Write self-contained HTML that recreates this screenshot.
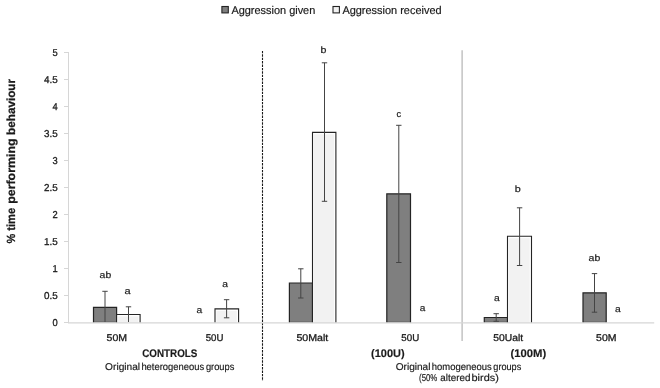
<!DOCTYPE html>
<html lang="en">
<head>
<meta charset="utf-8">
<title>Aggression given and received</title>
<style>
html,body{margin:0;padding:0;background:#ffffff;}
body{width:660px;height:388px;overflow:hidden;}
svg{display:block;}
.t{font-family:"Liberation Sans",sans-serif;fill:#1a1a1a;stroke:#1a1a1a;stroke-width:0.18px;text-rendering:geometricPrecision;}
.tick{font-size:10px;stroke-width:0.3px;}
.sig{font-size:9.3px;stroke-width:0.2px;}
.cat{font-size:9.8px;stroke-width:0.3px;}
.grp{font-size:11.1px;font-weight:bold;stroke-width:0.15px;}
.sub{font-size:9.9px;}
.leg{font-size:11.2px;}
.ytitle{font-size:11.8px;font-weight:bold;stroke-width:0.25px;}
</style>
</head>
<body>
<svg width="660" height="388" viewBox="0 0 660 388">
<rect x="0" y="0" width="660" height="388" fill="#ffffff"/>
<line x1="68.5" y1="52" x2="68.5" y2="323.0" stroke="#d6d6d6" stroke-width="1"/>
<line x1="64" y1="322.5" x2="68.5" y2="322.5" stroke="#d6d6d6" stroke-width="1"/>
<text x="52.6" y="326.0" class="t tick" textLength="5.2" lengthAdjust="spacingAndGlyphs">0</text>
<line x1="64" y1="295.5" x2="68.5" y2="295.5" stroke="#d6d6d6" stroke-width="1"/>
<text x="44.1" y="299.0" class="t tick" textLength="13.7" lengthAdjust="spacingAndGlyphs">0.5</text>
<line x1="64" y1="268.5" x2="68.5" y2="268.5" stroke="#d6d6d6" stroke-width="1"/>
<text x="52.6" y="272.0" class="t tick" textLength="5.2" lengthAdjust="spacingAndGlyphs">1</text>
<line x1="64" y1="241.5" x2="68.5" y2="241.5" stroke="#d6d6d6" stroke-width="1"/>
<text x="44.1" y="245.0" class="t tick" textLength="13.7" lengthAdjust="spacingAndGlyphs">1.5</text>
<line x1="64" y1="214.5" x2="68.5" y2="214.5" stroke="#d6d6d6" stroke-width="1"/>
<text x="52.6" y="218.0" class="t tick" textLength="5.2" lengthAdjust="spacingAndGlyphs">2</text>
<line x1="64" y1="187.5" x2="68.5" y2="187.5" stroke="#d6d6d6" stroke-width="1"/>
<text x="44.1" y="191.0" class="t tick" textLength="13.7" lengthAdjust="spacingAndGlyphs">2.5</text>
<line x1="64" y1="160.5" x2="68.5" y2="160.5" stroke="#d6d6d6" stroke-width="1"/>
<text x="52.6" y="164.0" class="t tick" textLength="5.2" lengthAdjust="spacingAndGlyphs">3</text>
<line x1="64" y1="133.5" x2="68.5" y2="133.5" stroke="#d6d6d6" stroke-width="1"/>
<text x="44.1" y="137.0" class="t tick" textLength="13.7" lengthAdjust="spacingAndGlyphs">3.5</text>
<line x1="64" y1="106.5" x2="68.5" y2="106.5" stroke="#d6d6d6" stroke-width="1"/>
<text x="52.6" y="110.0" class="t tick" textLength="5.2" lengthAdjust="spacingAndGlyphs">4</text>
<line x1="64" y1="79.5" x2="68.5" y2="79.5" stroke="#d6d6d6" stroke-width="1"/>
<text x="44.1" y="83.0" class="t tick" textLength="13.7" lengthAdjust="spacingAndGlyphs">4.5</text>
<line x1="64" y1="52.5" x2="68.5" y2="52.5" stroke="#d6d6d6" stroke-width="1"/>
<text x="52.6" y="56.0" class="t tick" textLength="5.2" lengthAdjust="spacingAndGlyphs">5</text>
<line x1="262.5" y1="50.9" x2="262.5" y2="381" stroke="#1a1a1a" stroke-width="1.1" stroke-dasharray="2.4 1"/>
<line x1="462.1" y1="50.3" x2="462.1" y2="341" stroke="#b4b4b4" stroke-width="1.2"/>
<rect x="93.5" y="307.4" width="23.1" height="15.1" fill="#7f7f7f"/>
<path d="M93.5 322.8V307.4H116.6V322.8" fill="none" stroke="#242424" stroke-width="1.2"/>
<line x1="93.5" y1="322.2" x2="116.6" y2="322.2" stroke="#242424" stroke-width="1" stroke-opacity="0.45"/>
<rect x="116.6" y="314.5" width="23.5" height="8.0" fill="#ffffff"/>
<rect x="118.1" y="316.4" width="20.2" height="6.1" fill="#f2f2f2"/>
<path d="M116.6 322.8V314.5H140.1V322.8" fill="none" stroke="#242424" stroke-width="1.1"/>
<rect x="215.0" y="308.9" width="23.6" height="13.6" fill="#ffffff"/>
<rect x="216.5" y="310.8" width="20.3" height="11.7" fill="#f2f2f2"/>
<path d="M215.0 322.8V308.9H238.6V322.8" fill="none" stroke="#242424" stroke-width="1.1"/>
<rect x="289.4" y="283.0" width="23.1" height="39.5" fill="#7f7f7f"/>
<path d="M289.4 322.8V283.0H312.5V322.8" fill="none" stroke="#242424" stroke-width="1.2"/>
<line x1="289.4" y1="322.2" x2="312.5" y2="322.2" stroke="#242424" stroke-width="1" stroke-opacity="0.45"/>
<rect x="312.5" y="132.4" width="23.4" height="190.1" fill="#ffffff"/>
<rect x="314.0" y="134.3" width="20.1" height="188.2" fill="#f2f2f2"/>
<path d="M312.5 322.8V132.4H335.9V322.8" fill="none" stroke="#242424" stroke-width="1.1"/>
<rect x="386.8" y="193.8" width="23.7" height="128.7" fill="#7f7f7f"/>
<path d="M386.8 322.8V193.8H410.5V322.8" fill="none" stroke="#242424" stroke-width="1.2"/>
<line x1="386.8" y1="322.2" x2="410.5" y2="322.2" stroke="#242424" stroke-width="1" stroke-opacity="0.45"/>
<rect x="484.3" y="317.5" width="23.2" height="5.0" fill="#7f7f7f"/>
<path d="M484.3 322.8V317.5H507.5V322.8" fill="none" stroke="#242424" stroke-width="1.2"/>
<line x1="484.3" y1="322.2" x2="507.5" y2="322.2" stroke="#242424" stroke-width="1" stroke-opacity="0.45"/>
<rect x="507.5" y="236.3" width="24.0" height="86.2" fill="#ffffff"/>
<rect x="509.0" y="238.2" width="20.7" height="84.3" fill="#f2f2f2"/>
<path d="M507.5 322.8V236.3H531.5V322.8" fill="none" stroke="#242424" stroke-width="1.1"/>
<rect x="583.0" y="292.8" width="23.2" height="29.7" fill="#7f7f7f"/>
<path d="M583.0 322.8V292.8H606.2V322.8" fill="none" stroke="#242424" stroke-width="1.2"/>
<line x1="583.0" y1="322.2" x2="606.2" y2="322.2" stroke="#242424" stroke-width="1" stroke-opacity="0.45"/>
<line x1="68.0" y1="322.9" x2="654.2" y2="322.9" stroke="#d6d6d6" stroke-width="1.2"/>
<path d="M102.3 291.3H107.7M105.0 291.3V322.0" stroke="#444444" stroke-width="1" fill="none"/>
<path d="M125.8 306.8H131.2M128.5 306.8V322.0" stroke="#444444" stroke-width="1" fill="none"/>
<path d="M223.9 299.7H229.3M226.6 299.7V317.8M223.9 317.8H229.3" stroke="#444444" stroke-width="1" fill="none"/>
<path d="M298.1 268.8H303.5M300.8 268.8V298.0M298.1 298.0H303.5" stroke="#444444" stroke-width="1" fill="none"/>
<path d="M321.8 62.8H327.2M324.5 62.8V201.3M321.8 201.3H327.2" stroke="#444444" stroke-width="1" fill="none"/>
<path d="M396.1 125.3H401.5M398.8 125.3V262.5M396.1 262.5H401.5" stroke="#444444" stroke-width="1" fill="none"/>
<path d="M493.5 313.7H498.9M496.2 313.7V321.3M493.5 321.3H498.9" stroke="#444444" stroke-width="1" fill="none"/>
<path d="M516.9 207.8H522.3M519.6 207.8V265.5M516.9 265.5H522.3" stroke="#444444" stroke-width="1" fill="none"/>
<path d="M591.8 273.6H597.2M594.5 273.6V312.2M591.8 312.2H597.2" stroke="#444444" stroke-width="1" fill="none"/>
<text x="99.6" y="278.1" class="t sig" textLength="11.6" lengthAdjust="spacingAndGlyphs">ab</text>
<text x="124.4" y="293.9" class="t sig" textLength="6.1" lengthAdjust="spacingAndGlyphs">a</text>
<text x="196.4" y="313.2" class="t sig" textLength="5.7" lengthAdjust="spacingAndGlyphs">a</text>
<text x="222.2" y="287.3" class="t sig" textLength="5.7" lengthAdjust="spacingAndGlyphs">a</text>
<text x="320.6" y="52.9" class="t sig" textLength="5.9" lengthAdjust="spacingAndGlyphs">b</text>
<text x="396.6" y="117.3" class="t sig" textLength="4.6" lengthAdjust="spacingAndGlyphs">c</text>
<text x="419.8" y="310.8" class="t sig" textLength="5.6" lengthAdjust="spacingAndGlyphs">a</text>
<text x="493.9" y="301.4" class="t sig" textLength="5.7" lengthAdjust="spacingAndGlyphs">a</text>
<text x="514.8" y="192.4" class="t sig" textLength="6.0" lengthAdjust="spacingAndGlyphs">b</text>
<text x="588.6" y="260.7" class="t sig" textLength="11.7" lengthAdjust="spacingAndGlyphs">ab</text>
<text x="615.0" y="311.5" class="t sig" textLength="5.7" lengthAdjust="spacingAndGlyphs">a</text>
<text x="106.6" y="340.8" class="t cat" textLength="20.5" lengthAdjust="spacingAndGlyphs">50M</text>
<text x="205.7" y="340.8" class="t cat" textLength="17.7" lengthAdjust="spacingAndGlyphs">50U</text>
<text x="296.4" y="340.8" class="t cat" textLength="31.9" lengthAdjust="spacingAndGlyphs">50Malt</text>
<text x="401.3" y="340.8" class="t cat" textLength="17.9" lengthAdjust="spacingAndGlyphs">50U</text>
<text x="493.3" y="340.8" class="t cat" textLength="29.8" lengthAdjust="spacingAndGlyphs">50Ualt</text>
<text x="596.1" y="340.8" class="t cat" textLength="20.4" lengthAdjust="spacingAndGlyphs">50M</text>
<text x="142.2" y="357.2" class="t grp" textLength="55.2" lengthAdjust="spacingAndGlyphs">CONTROLS</text>
<text x="371.0" y="357.0" class="t grp" textLength="33.6" lengthAdjust="spacingAndGlyphs">(100U)</text>
<text x="510.5" y="357.0" class="t grp" textLength="35.7" lengthAdjust="spacingAndGlyphs">(100M)</text>
<text x="105.1" y="369.5" class="t sub" textLength="35.0" lengthAdjust="spacingAndGlyphs">Original</text>
<text x="141.4" y="369.5" class="t sub" textLength="62.7" lengthAdjust="spacingAndGlyphs">heterogeneous</text>
<text x="205.9" y="369.5" class="t sub" textLength="28.4" lengthAdjust="spacingAndGlyphs">groups</text>
<text x="395.7" y="369.5" class="t sub" textLength="34.8" lengthAdjust="spacingAndGlyphs">Original</text>
<text x="431.8" y="369.5" class="t sub" textLength="59.8" lengthAdjust="spacingAndGlyphs">homogeneous</text>
<text x="493.3" y="369.5" class="t sub" textLength="28.0" lengthAdjust="spacingAndGlyphs">groups</text>
<text x="419.1" y="380.6" class="t sub" textLength="18.2" lengthAdjust="spacingAndGlyphs">(50%</text>
<text x="440.3" y="380.6" class="t sub" textLength="30.1" lengthAdjust="spacingAndGlyphs">altered</text>
<text x="471.5" y="380.6" class="t sub" textLength="27.3" lengthAdjust="spacingAndGlyphs">birds)</text>
<rect x="221.9" y="6.5" width="6.4" height="6.4" fill="#7f7f7f" stroke="#242424" stroke-width="1.1"/>
<text x="231.4" y="13.6" class="t leg" textLength="83.9" lengthAdjust="spacingAndGlyphs">Aggression given</text>
<rect x="333.0" y="6.5" width="6.4" height="6.4" fill="#f2f2f2" stroke="#242424" stroke-width="1.1"/>
<text x="342.4" y="13.6" class="t leg" textLength="99.2" lengthAdjust="spacingAndGlyphs">Aggression received</text>
<text transform="translate(15.2,243.6) rotate(-90)" class="t ytitle" textLength="9.8" lengthAdjust="spacingAndGlyphs">%</text>
<text transform="translate(15.2,230.7) rotate(-90)" class="t ytitle" textLength="22.8" lengthAdjust="spacingAndGlyphs">time</text>
<text transform="translate(15.2,203.8) rotate(-90)" class="t ytitle" textLength="65.4" lengthAdjust="spacingAndGlyphs">performing</text>
<text transform="translate(15.2,134.9) rotate(-90)" class="t ytitle" textLength="55.9" lengthAdjust="spacingAndGlyphs">behaviour</text>
</svg>
</body>
</html>
